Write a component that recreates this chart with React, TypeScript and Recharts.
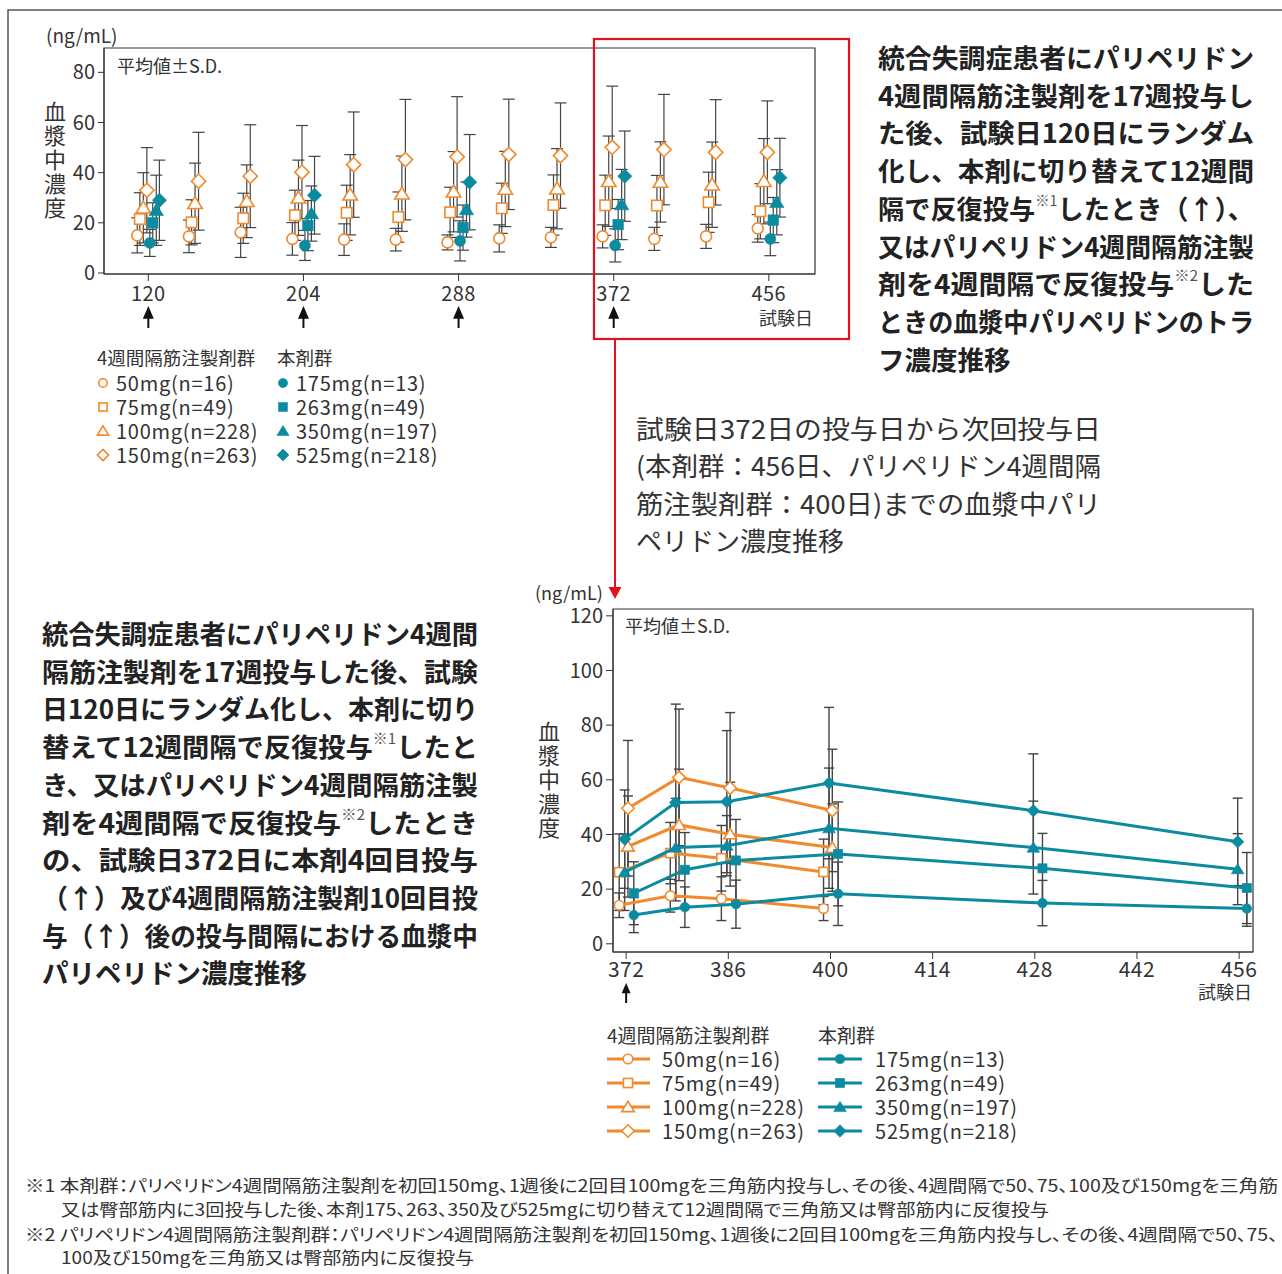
import React from "react";
import { ScatterChart, Scatter, XAxis, YAxis, ErrorBar, ReferenceArea } from "recharts";

const ORANGE = "#F08A2C";
const TEAL = "#0A8BA0";
const INK = "#333";
const BAR = "#444";
const RED = "#E50F1E";
const FONT = "'Noto Sans CJK JP', 'Noto Sans', sans-serif";

// ---- top chart: trough levels, study day 120 - 456 ----
const monthlyDays = [120, 148, 176, 204, 232, 260, 288, 316, 344, 372, 400, 428, 456];
const quarterlyDays = [120, 204, 288, 372, 456];
const topTicks = [120, 204, 288, 372, 456];
const topDoseDays = [120, 204, 288, 372];
const topYTicks = [0, 20, 40, 60, 80];

const pp50 = [15.0, 14.6, 16.2, 13.6, 13.3, 13.3, 12.2, 13.8, 14.2, 14.6, 13.6, 14.6, 17.8];
const pp50Sd = [7.0, 6.5, 10.0, 6.5, 6.3, 4.5, 3.0, 5.4, 4.0, 4.6, 4.6, 4.8, 5.5];
const pp75 = [21.5, 20.2, 21.8, 23.0, 24.0, 22.3, 24.2, 25.8, 27.1, 27.0, 26.9, 28.2, 24.6];
const pp75Sd = [10.5, 9.0, 10.0, 10.0, 11.0, 10.0, 10.0, 10.0, 12.0, 12.0, 12.0, 12.0, 11.0];
const pp100 = [26.0, 27.8, 28.6, 30.0, 31.2, 31.6, 32.4, 33.5, 33.6, 36.6, 36.3, 35.2, 36.6];
const pp100Sd = [14.0, 16.0, 14.5, 15.0, 16.0, 15.0, 16.0, 15.0, 16.0, 18.0, 16.0, 17.0, 17.0];
const pp150 = [33.0, 36.6, 38.6, 40.2, 43.2, 45.2, 46.3, 47.3, 46.8, 50.1, 49.2, 48.1, 48.1];
const pp150Sd = [17.0, 19.5, 20.5, 18.6, 21.0, 24.0, 24.0, 22.0, 21.0, 24.4, 22.0, 21.0, 20.5];
const pp3m175 = [12.0, 11.0, 12.8, 11.0, 13.6];
const pp3m175Sd = [5.4, 6.0, 8.0, 6.6, 6.7];
const pp3m263 = [20.0, 18.9, 18.1, 19.3, 21.1];
const pp3m263Sd = [8.0, 10.0, 9.0, 10.0, 9.0];
const pp3m350 = [25.0, 23.7, 25.3, 27.3, 28.2];
const pp3m350Sd = [14.0, 11.0, 11.0, 14.0, 13.0];
const pp3m525 = [29.0, 31.0, 36.2, 38.6, 38.0];
const pp3m525Sd = [16.0, 15.5, 19.0, 18.0, 15.7];

// ---- bottom chart: one dosing interval from day 372 ----
const monthlyDaysZoom = [372, 379, 386, 400];
const quarterlyDaysZoom = [372, 379, 386, 400, 428, 456];
const zoomTicks = [372, 386, 400, 414, 428, 442, 456];
const zoomDoseDays = [372];
const zoomYTicks = [0, 20, 40, 60, 80, 100, 120];

const zPp50 = [14.1, 17.6, 16.5, 12.9];
const zPp50Sd = [4.5, 6.0, 8.0, 4.4];
const zPp75 = [26.2, 33.2, 31.3, 26.3];
const zPp75Sd = [14.0, 11.2, 12.0, 12.0];
const zPp100 = [35.6, 43.5, 40.1, 35.2];
const zPp100Sd = [18.5, 20.4, 19.0, 16.0];
const zPp150 = [49.6, 60.9, 57.0, 48.8];
const zPp150Sd = [24.8, 25.0, 27.6, 22.4];
const zPp3m175 = [10.5, 13.4, 14.5, 18.3, 14.9, 12.9];
const zPp3m175Sd = [6.4, 7.4, 8.8, 11.6, 8.3, 6.5];
const zPp3m263 = [18.5, 27.1, 30.5, 32.9, 27.6, 20.4];
const zPp3m263Sd = [11.5, 13.6, 15.0, 19.0, 12.8, 13.0];
const zPp3m350 = [26.2, 35.2, 35.9, 42.3, 35.2, 27.3];
const zPp3m350Sd = [14.0, 18.0, 11.0, 22.0, 17.0, 13.0];
const zPp3m525 = [38.3, 51.7, 52.0, 58.8, 48.7, 37.3];
const zPp3m525Sd = [18.0, 36.0, 26.0, 27.7, 20.8, 16.0];

const monthlyLabels = ["50mg(n=16)", "75mg(n=49)", "100mg(n=228)", "150mg(n=263)"];
const quarterlyLabels = ["175mg(n=13)", "263mg(n=49)", "350mg(n=197)", "525mg(n=218)"];

type Kind = "circle" | "square" | "triangle" | "diamond";
const kinds: Kind[] = ["circle", "square", "triangle", "diamond"];

// horizontal dodge (in days) so the error bars don't sit on top of each other
const topDodgeMonthly = [-6.0, -4.6, -2.7, -0.8];
const topDodgeQuarterly = [0.8, 2.4, 4.3, 6.0];
const zoomDodgeMonthly = [-0.95, -0.95, 0.25, 0.25];
const zoomDodgeQuarterly = [1.05, 1.05, -0.2, -0.2];

const toPoints = (days: number[], values: number[], sds: number[], dodge: number) =>
  days.map((d, i) => ({ x: d + dodge, y: values[i], sd: sds[i] }));

const topSeries = [
  ...[pp50, pp75, pp100, pp150].map((v, i) => ({
    key: "m" + i,
    kind: kinds[i],
    open: true,
    data: toPoints(monthlyDays, v, [pp50Sd, pp75Sd, pp100Sd, pp150Sd][i], topDodgeMonthly[i]),
  })),
  ...[pp3m175, pp3m263, pp3m350, pp3m525].map((v, i) => ({
    key: "q" + i,
    kind: kinds[i],
    open: false,
    data: toPoints(quarterlyDays, v, [pp3m175Sd, pp3m263Sd, pp3m350Sd, pp3m525Sd][i], topDodgeQuarterly[i]),
  })),
];

const zoomSeries = [
  ...[zPp50, zPp75, zPp100, zPp150].map((v, i) => ({
    key: "zm" + i,
    kind: kinds[i],
    open: true,
    data: toPoints(monthlyDaysZoom, v, [zPp50Sd, zPp75Sd, zPp100Sd, zPp150Sd][i], zoomDodgeMonthly[i]),
  })),
  ...[zPp3m175, zPp3m263, zPp3m350, zPp3m525].map((v, i) => ({
    key: "zq" + i,
    kind: kinds[i],
    open: false,
    data: toPoints(quarterlyDaysZoom, v, [zPp3m175Sd, zPp3m263Sd, zPp3m350Sd, zPp3m525Sd][i], zoomDodgeQuarterly[i]),
  })),
];

function Marker({ kind, cx, cy, r, open }: { kind: Kind; cx: number; cy: number; r: number; open: boolean }) {
  const color = open ? ORANGE : TEAL;
  const paint = { fill: open ? "#fff" : color, stroke: color, strokeWidth: open ? 1.6 : 0.6 };
  if (kind === "circle") return <circle cx={cx} cy={cy} r={r} {...paint} />;
  if (kind === "square")
    return <rect x={cx - r * 0.95} y={cy - r * 0.95} width={r * 1.9} height={r * 1.9} {...paint} />;
  if (kind === "triangle") {
    const h = r * 1.2;
    return (
      <polygon
        points={`${cx},${cy - h} ${cx + h * 1.1},${cy + h * 0.8} ${cx - h * 1.1},${cy + h * 0.8}`}
        {...paint}
      />
    );
  }
  const d = r * 1.3;
  return <polygon points={`${cx},${cy - d} ${cx + d},${cy} ${cx},${cy + d} ${cx - d},${cy}`} {...paint} />;
}

function Arrow({ x, top, bottom, head }: { x: number; top: number; bottom: number; head: number }) {
  return (
    <g>
      <line x1={x} y1={top + head} x2={x} y2={bottom} stroke="#111" strokeWidth={2} />
      <polygon points={`${x},${top} ${x + head * 0.5},${top + head * 1.15} ${x - head * 0.5},${top + head * 1.15}`} fill="#111" />
    </g>
  );
}

const dayTick = (doseDays: number[], size: number, textDy: number, arrowTop: number, arrowBottom: number, head: number) =>
  (props: any) => {
    const { x, y, payload } = props;
    return (
      <g>
        <text x={x} y={y + textDy} textAnchor="middle" fontSize={size} letterSpacing={0.5} fill={INK}>
          {payload.value}
        </text>
        {doseDays.includes(payload.value) ? (
          <Arrow x={x} top={y + arrowTop} bottom={y + arrowBottom} head={head} />
        ) : null}
      </g>
    );
  };

function TopChart() {
  const xDomain = [96, 481];
  const yDomain = [-0.4, 89.7];
  return (
    <div style={{ position: "absolute", left: 0, top: 0 }}>
      <ScatterChart width={830} height={340} margin={{ top: 48, right: 15, left: 64, bottom: 36 }}>
        <XAxis
          type="number"
          dataKey="x"
          domain={xDomain}
          ticks={topTicks}
          interval={0}
          allowDataOverflow
          height={30}
          tickSize={7}
          tickMargin={0}
          stroke={INK}
          tick={dayTick(topDoseDays, 20, 20, 25, 47, 11)}
        />
        <YAxis
          type="number"
          dataKey="y"
          domain={yDomain}
          ticks={topYTicks}
          interval={0}
          allowDataOverflow
          width={40}
          tickSize={6}
          tickMargin={3}
          stroke={INK}
          tick={{ fill: INK, fontSize: 20 }}
        />
        <ReferenceArea
          x1={xDomain[0]}
          x2={xDomain[1]}
          y1={yDomain[0]}
          y2={yDomain[1]}
          fill="none"
          stroke={INK}
          strokeWidth={1.2}
          ifOverflow="visible"
        />
        {topSeries.map((s) => (
          <Scatter
            key={s.key}
            data={s.data}
            isAnimationActive={false}
            shape={(p: any) => <Marker kind={s.kind} cx={p.cx} cy={p.cy} r={5.5} open={s.open} />}
          >
            <ErrorBar dataKey="sd" direction="y" width={6} stroke={BAR} strokeWidth={1.2} />
          </Scatter>
        ))}
      </ScatterChart>
    </div>
  );
}

function ZoomChart() {
  const xDomain = [370.2, 457.9];
  const yDomain = [-3, 122.5];
  return (
    <div style={{ position: "absolute", left: 520, top: 580 }}>
      <ScatterChart width={760} height={440} margin={{ top: 29, right: 27, left: 0, bottom: 28 }}>
        <XAxis
          type="number"
          dataKey="x"
          domain={xDomain}
          ticks={zoomTicks}
          interval={0}
          allowDataOverflow
          height={40}
          tickSize={7}
          tickMargin={0}
          stroke={INK}
          tick={dayTick(zoomDoseDays, 21, 18, 24, 44, 9)}
        />
        <YAxis
          type="number"
          dataKey="y"
          domain={yDomain}
          ticks={zoomYTicks}
          interval={0}
          allowDataOverflow
          width={93}
          tickSize={7}
          tickMargin={3}
          stroke={INK}
          tick={{ fill: INK, fontSize: 20 }}
        />
        <ReferenceArea
          x1={xDomain[0]}
          x2={xDomain[1]}
          y1={yDomain[0]}
          y2={yDomain[1]}
          fill="none"
          stroke={INK}
          strokeWidth={1.2}
          ifOverflow="visible"
        />
        {zoomSeries.map((s) => (
          <Scatter
            key={s.key}
            data={s.data}
            isAnimationActive={false}
            line={{ stroke: s.open ? ORANGE : TEAL, strokeWidth: 3 }}
            lineType="joint"
            shape={(p: any) => <Marker kind={s.kind} cx={p.cx} cy={p.cy} r={4.8} open={s.open} />}
          >
            <ErrorBar dataKey="sd" direction="y" width={5} stroke={BAR} strokeWidth={1.4} />
          </Scatter>
        ))}
      </ScatterChart>
    </div>
  );
}

// text blocks -------------------------------------------------------------
const rightTitle = [
  "統合失調症患者にパリペリドン",
  "4週間隔筋注製剤を17週投与し",
  "た後、試験日120日にランダム",
  "化し、本剤に切り替えて12週間",
  "隔で反復投与※1したとき（↑）、",
  "又はパリペリドン4週間隔筋注製",
  "剤を4週間隔で反復投与※2した",
  "ときの血漿中パリペリドンのトラ",
  "フ濃度推移",
];
const leftTitle = [
  "統合失調症患者にパリペリドン4週間",
  "隔筋注製剤を17週投与した後、試験",
  "日120日にランダム化し、本剤に切り",
  "替えて12週間隔で反復投与※1したと",
  "き、又はパリペリドン4週間隔筋注製",
  "剤を4週間隔で反復投与※2したとき",
  "の、試験日372日に本剤4回目投与",
  "（↑）及び4週間隔筋注製剤10回目投",
  "与（↑）後の投与間隔における血漿中",
  "パリペリドン濃度推移",
];
const middleNote = [
  "試験日372日の投与日から次回投与日",
  "(本剤群：456日、パリペリドン4週間隔",
  "筋注製剤群：400日)までの血漿中パリ",
  "ペリドン濃度推移",
];
const footnotes = [
  "※1 本剤群：パリペリドン4週間隔筋注製剤を初回150mg、1週後に2回目100mgを三角筋内投与し、その後、4週間隔で50、75、100及び150mgを三角筋",
  "又は臀部筋内に3回投与した後、本剤175、263、350及び525mgに切り替えて12週間隔で三角筋又は臀部筋内に反復投与",
  "※2 パリペリドン4週間隔筋注製剤群：パリペリドン4週間隔筋注製剤を初回150mg、1週後に2回目100mgを三角筋内投与し、その後、4週間隔で50、75、",
  "100及び150mgを三角筋又は臀部筋内に反復投与",
];

function Block({
  x, y, step, lines, size, weight, width, full, fill,
}: {
  x: number; y: number; step: number; lines: string[]; size: number; weight: number;
  width: number; full: number; fill: string;
}) {
  return (
    <g style={{ fontFeatureSettings: "normal" }}>
      {lines.map((ln, i) => {
        const parts = ln.split(/(※\d)/);
        return (
          <text
            key={i}
            x={x}
            y={y + i * step}
            dominantBaseline="central"
            fontSize={size}
            fontWeight={weight}
            fill={fill}
            textLength={i < full ? width : undefined}
            lengthAdjust="spacingAndGlyphs"
          >
            {parts.map((p, j) =>
              /^※\d$/.test(p) ? (
                <tspan key={j} fontSize={size * 0.55} dy={-size * 0.3} fontWeight={400} fill="#555">
                  {p}
                </tspan>
              ) : (
                <tspan key={j} dy={j > 0 && /^※\d$/.test(parts[j - 1]) ? size * 0.3 : 0}>
                  {p}
                </tspan>
              )
            )}
          </text>
        );
      })}
    </g>
  );
}

function VerticalLabel({ x, y, size, spacing }: { x: number; y: number; size: number; spacing: number }) {
  return (
    <text
      x={x}
      y={y}
      fontSize={size}
      fill={INK}
      letterSpacing={spacing}
      style={{ writingMode: "vertical-rl", textOrientation: "upright" } as any}
    >
      血漿中濃度
    </text>
  );
}

function Overlay() {
  return (
    <svg width={1282} height={1274} style={{ position: "absolute", left: 0, top: 0, pointerEvents: "none" }}>
      {/* frame */}
      <path d="M8,1274 L8,10 L1282,10" fill="none" stroke="#555" strokeWidth={1.5} />

      {/* top chart labels */}
      <text x={46} y={34} dominantBaseline="central" fontSize={19} fill={INK}>(ng/mL)</text>
      <text x={117} y={65} dominantBaseline="central" fontSize={18} fill={INK}>平均値±S.D.</text>
      <VerticalLabel x={55} y={101} size={22} spacing={2} />
      <text x={813} y={317} textAnchor="end" dominantBaseline="central" fontSize={18} fill={INK}>試験日</text>

      {/* top legend */}
      <text x={97} y={357} dominantBaseline="central" fontSize={18.5} fill={INK}>4週間隔筋注製剤群</text>
      <text x={277} y={357} dominantBaseline="central" fontSize={18.5} fill={INK}>本剤群</text>
      {kinds.map((k, i) => (
        <g key={k}>
          <Marker kind={k} cx={103} cy={383 + i * 24} r={4.3} open />
          <text x={116} y={382 + i * 24} dominantBaseline="central" fontSize={20} letterSpacing={0.75} fill={INK}>{monthlyLabels[i]}</text>
          <Marker kind={k} cx={283} cy={383 + i * 24} r={4.6} open={false} />
          <text x={296} y={382 + i * 24} dominantBaseline="central" fontSize={20} letterSpacing={0.75} fill={INK}>{quarterlyLabels[i]}</text>
        </g>
      ))}

      {/* red highlight + pointer */}
      <rect x={594} y={39} width={255} height={300} fill="none" stroke={RED} strokeWidth={2.2} />
      <line x1={615} y1={339} x2={615} y2={590} stroke={RED} strokeWidth={2} />
      <polygon points="608.5,587 621.5,587 615,599" fill={RED} />

      <Block x={878} y={56} step={37.7} lines={rightTitle} size={26.5} weight={700} width={376} full={8} fill="#222" />
      <Block x={636} y={427} step={37.3} lines={middleNote} size={26} weight={400} width={465} full={3} fill={INK} />
      <Block x={42} y={632} step={37.7} lines={leftTitle} size={26.5} weight={700} width={436} full={9} fill="#222" />

      {/* bottom chart labels */}
      <text x={535} y={592} dominantBaseline="central" fontSize={18} fill={INK}>(ng/mL)</text>
      <text x={625} y={625} dominantBaseline="central" fontSize={18} fill={INK}>平均値±S.D.</text>
      <VerticalLabel x={549} y={721} size={22} spacing={2} />
      <text x={1252} y={991} textAnchor="end" dominantBaseline="central" fontSize={18} fill={INK}>試験日</text>

      {/* bottom legend */}
      <text x={607} y={1034} dominantBaseline="central" fontSize={19} fill={INK}>4週間隔筋注製剤群</text>
      <text x={818} y={1034} dominantBaseline="central" fontSize={19} fill={INK}>本剤群</text>
      {kinds.map((k, i) => (
        <g key={k}>
          <line x1={607} x2={650} y1={1059 + i * 24} y2={1059 + i * 24} stroke={ORANGE} strokeWidth={3.2} />
          <Marker kind={k} cx={628} cy={1059 + i * 24} r={4.8} open />
          <text x={662} y={1058 + i * 24} dominantBaseline="central" fontSize={20} letterSpacing={0.8} fill={INK}>{monthlyLabels[i]}</text>
          <line x1={818} x2={862} y1={1059 + i * 24} y2={1059 + i * 24} stroke={TEAL} strokeWidth={3.2} />
          <Marker kind={k} cx={840} cy={1059 + i * 24} r={4.8} open={false} />
          <text x={875} y={1058 + i * 24} dominantBaseline="central" fontSize={20} letterSpacing={0.8} fill={INK}>{quarterlyLabels[i]}</text>
        </g>
      ))}

      {/* footnotes */}
      {footnotes.map((f, i) => (
        <text
          key={i}
          x={i % 2 === 0 ? 25 : 61}
          y={[1184, 1208, 1233, 1256][i]}
          dominantBaseline="central"
          fontSize={17}
          fill={INK}
          textLength={[1253, 988, 1253, 413][i]}
          lengthAdjust="spacingAndGlyphs"
        >
          {f}
        </text>
      ))}
    </svg>
  );
}

export default function App() {
  return (
    <div
      style={{
        position: "absolute",
        left: 0,
        top: 0,
        width: 1282,
        height: 1274,
        overflow: "hidden",
        background: "#fff",
        fontFamily: FONT,
        fontFeatureSettings: '"palt"',
      }}
    >
      <TopChart />
      <ZoomChart />
      <Overlay />
    </div>
  );
}
